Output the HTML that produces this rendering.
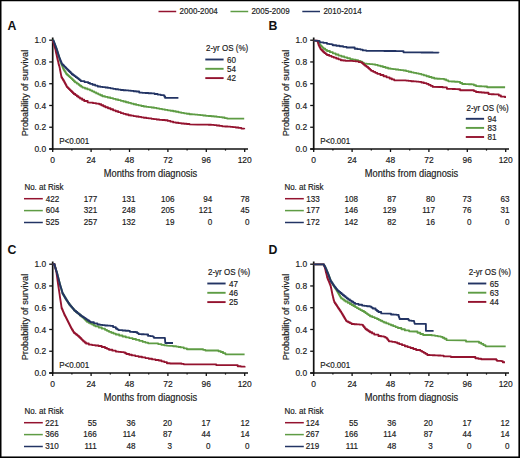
<!DOCTYPE html><html><head><meta charset="utf-8"><style>html,body{margin:0;padding:0;background:#fff;overflow:hidden;width:520px;height:458px;}svg{display:block;}</style></head><body>
<svg width="520" height="458" viewBox="0 0 520 458" font-family="&quot;Liberation Sans&quot;, sans-serif">
<rect x="0" y="0" width="520" height="458" fill="#fff"/>
<line x1="158.5" y1="11.5" x2="176.2" y2="11.5" stroke="#94132f" stroke-width="1.5"/>
<text transform="translate(179.6,14.3) scale(0.93,1)" font-size="8.6" fill="#1a1a1a" stroke="#1c1c1c" stroke-width="0.18">2000-2004</text>
<line x1="230.5" y1="11.5" x2="248.2" y2="11.5" stroke="#5e9c44" stroke-width="1.5"/>
<text transform="translate(251.4,14.3) scale(0.93,1)" font-size="8.6" fill="#1a1a1a" stroke="#1c1c1c" stroke-width="0.18">2005-2009</text>
<line x1="302.3" y1="11.5" x2="320" y2="11.5" stroke="#233464" stroke-width="1.5"/>
<text transform="translate(323.4,14.3) scale(0.93,1)" font-size="8.6" fill="#1a1a1a" stroke="#1c1c1c" stroke-width="0.18">2010-2014</text>
<g transform="translate(0,0)">
<text x="7.6" y="29.6" font-size="12.3" font-weight="bold" fill="#111">A</text>
<text transform="translate(28.0,93) rotate(-90) scale(0.945,1)" text-anchor="middle" font-size="9.7" fill="#1a1a1a" stroke="#1c1c1c" stroke-width="0.18">Probability of survival</text>
<line x1="49.2" y1="149" x2="52.7" y2="149" stroke="#111" stroke-width="1.3"/>
<text transform="translate(46.1,152.1) scale(0.965,1)" text-anchor="end" font-size="8.7" fill="#1a1a1a" stroke="#1c1c1c" stroke-width="0.18">0.0</text>
<line x1="49.2" y1="127.24" x2="52.7" y2="127.24" stroke="#111" stroke-width="1.3"/>
<text transform="translate(46.1,130.34) scale(0.965,1)" text-anchor="end" font-size="8.7" fill="#1a1a1a" stroke="#1c1c1c" stroke-width="0.18">0.2</text>
<line x1="49.2" y1="105.48" x2="52.7" y2="105.48" stroke="#111" stroke-width="1.3"/>
<text transform="translate(46.1,108.58) scale(0.965,1)" text-anchor="end" font-size="8.7" fill="#1a1a1a" stroke="#1c1c1c" stroke-width="0.18">0.4</text>
<line x1="49.2" y1="83.72" x2="52.7" y2="83.72" stroke="#111" stroke-width="1.3"/>
<text transform="translate(46.1,86.82) scale(0.965,1)" text-anchor="end" font-size="8.7" fill="#1a1a1a" stroke="#1c1c1c" stroke-width="0.18">0.6</text>
<line x1="49.2" y1="61.96" x2="52.7" y2="61.96" stroke="#111" stroke-width="1.3"/>
<text transform="translate(46.1,65.06) scale(0.965,1)" text-anchor="end" font-size="8.7" fill="#1a1a1a" stroke="#1c1c1c" stroke-width="0.18">0.8</text>
<line x1="49.2" y1="40.2" x2="52.7" y2="40.2" stroke="#111" stroke-width="1.3"/>
<text transform="translate(46.1,43.3) scale(0.965,1)" text-anchor="end" font-size="8.7" fill="#1a1a1a" stroke="#1c1c1c" stroke-width="0.18">1.0</text>
<line x1="52.7" y1="37.5" x2="52.7" y2="149.6" stroke="#111" stroke-width="1.7"/>
<line x1="49.2" y1="149.0" x2="248" y2="149.0" stroke="#111" stroke-width="1.5"/>
<line x1="52.7" y1="149.0" x2="52.7" y2="152.0" stroke="#111" stroke-width="1.3"/>
<text transform="translate(52.7,163.3) scale(0.97,1)" text-anchor="middle" font-size="8.7" fill="#1a1a1a" stroke="#1c1c1c" stroke-width="0.18">0</text>
<line x1="71.9" y1="149.0" x2="71.9" y2="150.6" stroke="#111" stroke-width="1.2"/>
<line x1="91.1" y1="149.0" x2="91.1" y2="152.0" stroke="#111" stroke-width="1.3"/>
<text transform="translate(91.1,163.3) scale(0.97,1)" text-anchor="middle" font-size="8.7" fill="#1a1a1a" stroke="#1c1c1c" stroke-width="0.18">24</text>
<line x1="110.3" y1="149.0" x2="110.3" y2="150.6" stroke="#111" stroke-width="1.2"/>
<line x1="129.5" y1="149.0" x2="129.5" y2="152.0" stroke="#111" stroke-width="1.3"/>
<text transform="translate(129.5,163.3) scale(0.97,1)" text-anchor="middle" font-size="8.7" fill="#1a1a1a" stroke="#1c1c1c" stroke-width="0.18">48</text>
<line x1="148.7" y1="149.0" x2="148.7" y2="150.6" stroke="#111" stroke-width="1.2"/>
<line x1="167.9" y1="149.0" x2="167.9" y2="152.0" stroke="#111" stroke-width="1.3"/>
<text transform="translate(167.9,163.3) scale(0.97,1)" text-anchor="middle" font-size="8.7" fill="#1a1a1a" stroke="#1c1c1c" stroke-width="0.18">72</text>
<line x1="187.1" y1="149.0" x2="187.1" y2="150.6" stroke="#111" stroke-width="1.2"/>
<line x1="206.3" y1="149.0" x2="206.3" y2="152.0" stroke="#111" stroke-width="1.3"/>
<text transform="translate(206.3,163.3) scale(0.97,1)" text-anchor="middle" font-size="8.7" fill="#1a1a1a" stroke="#1c1c1c" stroke-width="0.18">96</text>
<line x1="225.5" y1="149.0" x2="225.5" y2="150.6" stroke="#111" stroke-width="1.2"/>
<line x1="244.7" y1="149.0" x2="244.7" y2="152.0" stroke="#111" stroke-width="1.3"/>
<text transform="translate(244.7,163.3) scale(0.97,1)" text-anchor="middle" font-size="8.7" fill="#1a1a1a" stroke="#1c1c1c" stroke-width="0.18">120</text>
<text transform="translate(150.5,176.9) scale(0.91,1)" text-anchor="middle" font-size="10.2" fill="#1a1a1a" stroke="#1c1c1c" stroke-width="0.18">Months from diagnosis</text>
<text transform="translate(59.2,143.6) scale(0.93,1)" font-size="8.6" fill="#1a1a1a" stroke="#1c1c1c" stroke-width="0.18">P&lt;0.001</text>
<text transform="translate(206,50.9) scale(0.93,1)" font-size="8.6" fill="#1a1a1a" stroke="#1c1c1c" stroke-width="0.18">2-yr OS (%)</text>
<line x1="205.3" y1="59.5" x2="223.6" y2="59.5" stroke="#233464" stroke-width="1.9"/>
<text transform="translate(227,62.6) scale(0.93,1)" font-size="8.7" fill="#1a1a1a" stroke="#1c1c1c" stroke-width="0.18">60</text>
<line x1="205.3" y1="68.8" x2="223.6" y2="68.8" stroke="#5e9c44" stroke-width="1.9"/>
<text transform="translate(227,71.9) scale(0.93,1)" font-size="8.7" fill="#1a1a1a" stroke="#1c1c1c" stroke-width="0.18">54</text>
<line x1="205.3" y1="78.1" x2="223.6" y2="78.1" stroke="#94132f" stroke-width="1.9"/>
<text transform="translate(227,81.2) scale(0.93,1)" font-size="8.7" fill="#1a1a1a" stroke="#1c1c1c" stroke-width="0.18">42</text>
<polyline points="52.7,40.2 53.12,40.2 53.12,41.19 53.54,41.19 53.54,42.18 53.97,42.18 53.97,43.17 54.39,43.17 54.39,44.16 54.81,44.16 54.81,45.14 55.23,45.14 55.23,46.13 55.66,46.13 55.66,47.12 56.08,47.12 56.08,48.11 56.5,48.11 56.5,49.1 56.8,49.1 56.8,50.09 57.1,50.09 57.1,51.08 57.4,51.08 57.4,52.07 57.7,52.07 57.7,53.06 58,53.06 58,54.05 58.3,54.05 58.3,55.05 58.6,55.05 58.6,56.04 58.9,56.04 58.9,57.03 59.2,57.03 59.2,58.02 59.5,58.02 59.5,59.01 59.8,59.01 59.8,60 60.17,60 60.17,60.98 60.53,60.98 60.53,61.96 60.9,61.96 60.9,62.93 61.27,62.93 61.27,63.91 61.63,63.91 61.63,64.89 62,64.89 62,65.87 62.37,65.87 62.37,66.84 62.73,66.84 62.73,67.82 63.1,67.82 63.1,68.8 63.76,68.8 63.76,69.88 64.42,69.88 64.42,70.96 65.08,70.96 65.08,72.04 65.74,72.04 65.74,73.12 66.4,73.12 66.4,74.2 67.48,74.2 67.48,75.18 68.56,75.18 68.56,76.16 69.64,76.16 69.64,77.14 70.72,77.14 70.72,78.12 71.8,78.12 71.8,79.1 72.87,79.1 72.87,80.17 73.93,80.17 73.93,81.23 75,81.23 75,82.3 76.8,82.3 76.8,83.55 78.6,83.55 78.6,84.8 79.9,84.8 79.9,85.73 81.2,85.73 81.2,86.67 82.5,86.67 82.5,87.6 85,87.6 85,88.5 87.5,88.5 87.5,89.4 90,89.4 90,90.3 92.07,90.3 92.07,91.33 94.13,91.33 94.13,92.37 96.2,92.37 96.2,93.4 98.23,93.4 98.23,94.33 100.27,94.33 100.27,95.27 102.3,95.27 102.3,96.2 105,96.2 105,96.85 107.7,96.85 107.7,97.5 110.4,97.5 110.4,98.15 113.1,98.15 113.1,98.8 115.67,98.8 115.67,99.47 118.23,99.47 118.23,100.13 120.8,100.13 120.8,100.8 123.37,100.8 123.37,101.5 125.93,101.5 125.93,102.2 128.5,102.2 128.5,102.9 131.07,102.9 131.07,103.57 133.63,103.57 133.63,104.23 136.2,104.23 136.2,104.9 138.73,104.9 138.73,105.43 141.27,105.43 141.27,105.97 143.8,105.97 143.8,106.5 146.37,106.5 146.37,106.83 148.93,106.83 148.93,107.17 151.5,107.17 151.5,107.5 154.07,107.5 154.07,107.93 156.63,107.93 156.63,108.37 159.2,108.37 159.2,108.8 162.1,108.8 162.1,109.35 165,109.35 165,109.9 167.73,109.9 167.73,110.33 170.47,110.33 170.47,110.77 173.2,110.77 173.2,111.2 175.9,111.2 175.9,111.77 178.6,111.77 178.6,112.33 181.3,112.33 181.3,112.9 184.03,112.9 184.03,113.33 186.77,113.33 186.77,113.77 189.5,113.77 189.5,114.2 192.23,114.2 192.23,114.4 194.97,114.4 194.97,114.6 197.7,114.6 197.7,114.8 200.4,114.8 200.4,115.13 203.1,115.13 203.1,115.47 205.8,115.47 205.8,115.8 208.53,115.8 208.53,116.03 211.27,116.03 211.27,116.27 214,116.27 214,116.5 216.73,116.5 216.73,116.83 219.47,116.83 219.47,117.17 222.2,117.17 222.2,117.5 224.65,117.5 224.65,118.05 227.1,118.05 227.1,118.6 244.2,118.6" fill="none" stroke="#5e9c44" stroke-width="1.85" stroke-linejoin="round"/>
<polyline points="52.7,40.2 53.3,42.5 53.57,42.5 53.57,43.46 53.85,43.46 53.85,44.42 54.12,44.42 54.12,45.39 54.4,45.39 54.4,46.35 54.67,46.35 54.67,47.31 54.95,47.31 54.95,48.28 55.23,48.28 55.23,49.24 55.5,49.24 55.5,50.2 55.71,50.2 55.71,51.18 55.92,51.18 55.92,52.16 56.13,52.16 56.13,53.14 56.34,53.14 56.34,54.12 56.55,54.12 56.55,55.1 56.76,55.1 56.76,56.08 56.97,56.08 56.97,57.06 57.18,57.06 57.18,58.04 57.39,58.04 57.39,59.02 57.6,59.02 57.6,60 57.84,60 57.84,60.98 58.09,60.98 58.09,61.96 58.33,61.96 58.33,62.93 58.58,62.93 58.58,63.91 58.82,63.91 58.82,64.89 59.07,64.89 59.07,65.87 59.31,65.87 59.31,66.84 59.56,66.84 59.56,67.82 59.8,67.82 59.8,68.8 59.99,68.8 59.99,69.77 60.18,69.77 60.18,70.73 60.37,70.73 60.37,71.7 60.56,71.7 60.56,72.67 60.74,72.67 60.74,73.63 60.93,73.63 60.93,74.6 61.12,74.6 61.12,75.57 61.31,75.57 61.31,76.53 61.5,76.53 61.5,77.5 62.17,77.5 62.17,78.6 62.85,78.6 62.85,79.7 63.53,79.7 63.53,80.8 64.2,80.8 64.2,81.9 64.74,81.9 64.74,82.94 65.28,82.94 65.28,83.98 65.82,83.98 65.82,85.02 66.36,85.02 66.36,86.06 66.9,86.06 66.9,87.1 67.89,87.1 67.89,88.09 68.87,88.09 68.87,89.07 69.86,89.07 69.86,90.06 70.84,90.06 70.84,91.04 71.83,91.04 71.83,92.03 72.81,92.03 72.81,93.01 73.8,93.01 73.8,94 75.35,94 75.35,95.12 76.9,95.12 76.9,96.25 78.45,96.25 78.45,97.38 80,97.38 80,98.5 82.1,98.5 82.1,99.75 84.2,99.75 84.2,101 87.7,101 87.7,102.4 90,102.6 93.07,102.6 93.07,103.13 96.13,103.13 96.13,103.67 99.2,103.67 99.2,104.2 101.27,104.2 101.27,105.2 103.33,105.2 103.33,106.2 105.4,106.2 105.4,107.2 107.97,107.2 107.97,108.23 110.53,108.23 110.53,109.27 113.1,109.27 113.1,110.3 115.67,110.3 115.67,111.23 118.23,111.23 118.23,112.17 120.8,112.17 120.8,113.1 123.37,113.1 123.37,113.8 125.93,113.8 125.93,114.5 128.5,114.5 128.5,115.2 131.07,115.2 131.07,115.63 133.63,115.63 133.63,116.07 136.2,116.07 136.2,116.5 138.73,116.5 138.73,116.9 141.27,116.9 141.27,117.3 143.8,117.3 143.8,117.7 146.37,117.7 146.37,118.07 148.93,118.07 148.93,118.43 151.5,118.43 151.5,118.8 154.07,118.8 154.07,119.13 156.63,119.13 156.63,119.47 159.2,119.47 159.2,119.8 162.1,119.8 162.1,120 165,120 165,120.2 167.73,120.2 167.73,120.93 170.47,120.93 170.47,121.67 173.2,121.67 173.2,122.4 175.9,122.4 175.9,122.77 178.6,122.77 178.6,123.13 181.3,123.13 181.3,123.5 184.03,123.5 184.03,123.77 186.77,123.77 186.77,124.03 189.5,124.03 189.5,124.3 197.7,124.6 205.8,124.6 208.53,124.6 208.53,124.77 211.27,124.77 211.27,124.93 214,124.93 214,125.1 216.73,125.1 216.73,125.5 219.47,125.5 219.47,125.9 222.2,125.9 222.2,126.3 224.93,126.3 224.93,126.47 227.67,126.47 227.67,126.63 230.4,126.63 230.4,126.8 233.1,126.8 233.1,127.17 235.8,127.17 235.8,127.53 238.5,127.53 238.5,127.9 241.35,127.9 241.35,128.55 244.2,128.55 244.2,129.2" fill="none" stroke="#94132f" stroke-width="1.85" stroke-linejoin="round"/>
<polyline points="52.7,40.2 53.3,40.4 53.66,40.4 53.66,41.37 54.01,41.37 54.01,42.33 54.37,42.33 54.37,43.3 54.72,43.3 54.72,44.27 55.08,44.27 55.08,45.23 55.43,45.23 55.43,46.2 55.79,46.2 55.79,47.17 56.14,47.17 56.14,48.13 56.5,48.13 56.5,49.1 56.81,49.1 56.81,50.07 57.12,50.07 57.12,51.03 57.43,51.03 57.43,52 57.74,52 57.74,52.97 58.06,52.97 58.06,53.93 58.37,53.93 58.37,54.9 58.68,54.9 58.68,55.87 58.99,55.87 58.99,56.83 59.3,56.83 59.3,57.8 59.69,57.8 59.69,58.74 60.07,58.74 60.07,59.69 60.46,59.69 60.46,60.63 60.84,60.63 60.84,61.57 61.23,61.57 61.23,62.51 61.61,62.51 61.61,63.46 62,63.46 62,64.4 63.1,64.4 63.1,65.5 64.2,65.5 64.2,66.6 65.3,66.6 65.3,67.7 66.4,67.7 66.4,68.8 67.48,68.8 67.48,69.88 68.56,69.88 68.56,70.96 69.64,70.96 69.64,72.04 70.72,72.04 70.72,73.12 71.8,73.12 71.8,74.2 73.12,74.2 73.12,75.18 74.44,75.18 74.44,76.16 75.76,76.16 75.76,77.14 77.08,77.14 77.08,78.12 78.4,78.12 78.4,79.1 79.6,79.1 79.6,80.1 80.8,80.1 80.8,81.1 84.5,81.1 84.5,82.05 88.2,82.05 88.2,83 90,83 90,83.8 92.57,83.8 92.57,84.7 95.13,84.7 95.13,85.6 97.7,85.6 97.7,86.5 100.27,86.5 100.27,86.83 102.83,86.83 102.83,87.17 105.4,87.17 105.4,87.5 107.97,87.5 107.97,87.93 110.53,87.93 110.53,88.37 113.1,88.37 113.1,88.8 115.67,88.8 115.67,89.2 118.23,89.2 118.23,89.6 120.8,89.6 120.8,90 123.37,90 123.37,90.2 125.93,90.2 125.93,90.4 128.5,90.4 128.5,90.6 131.07,90.6 131.07,90.9 133.63,90.9 133.63,91.2 136.2,91.2 136.2,91.5 139.2,91.5 139.2,92.6 142.27,92.6 142.27,92.8 145.35,92.8 145.35,93 148.43,93 148.43,93.2 151.5,93.2 151.5,93.4 154.6,93.4 154.6,94 157.7,94 157.7,94.6 160.75,94.6 160.75,95.05 163.8,95.05 163.8,95.5 164.5,95.5 164.5,96.7 165.2,96.7 165.2,97.9 178.4,97.9" fill="none" stroke="#233464" stroke-width="1.85" stroke-linejoin="round"/>
<text transform="translate(24.4,189.5) scale(0.93,1)" font-size="8.6" fill="#1a1a1a" stroke="#1c1c1c" stroke-width="0.18">No. at Risk</text>
<line x1="24" y1="198.7" x2="42.8" y2="198.7" stroke="#94132f" stroke-width="1.5"/>
<text transform="translate(59.2,201.55) scale(0.93,1)" text-anchor="end" font-size="8.7" fill="#1a1a1a" stroke="#1c1c1c" stroke-width="0.18">422</text>
<text transform="translate(97.3,201.55) scale(0.93,1)" text-anchor="end" font-size="8.7" fill="#1a1a1a" stroke="#1c1c1c" stroke-width="0.18">177</text>
<text transform="translate(135.6,201.55) scale(0.93,1)" text-anchor="end" font-size="8.7" fill="#1a1a1a" stroke="#1c1c1c" stroke-width="0.18">131</text>
<text transform="translate(174.4,201.55) scale(0.93,1)" text-anchor="end" font-size="8.7" fill="#1a1a1a" stroke="#1c1c1c" stroke-width="0.18">106</text>
<text transform="translate(212.3,201.55) scale(0.93,1)" text-anchor="end" font-size="8.7" fill="#1a1a1a" stroke="#1c1c1c" stroke-width="0.18">94</text>
<text transform="translate(249.4,201.55) scale(0.93,1)" text-anchor="end" font-size="8.7" fill="#1a1a1a" stroke="#1c1c1c" stroke-width="0.18">78</text>
<line x1="24" y1="210.6" x2="42.8" y2="210.6" stroke="#5e9c44" stroke-width="1.5"/>
<text transform="translate(59.2,213.45) scale(0.93,1)" text-anchor="end" font-size="8.7" fill="#1a1a1a" stroke="#1c1c1c" stroke-width="0.18">604</text>
<text transform="translate(97.3,213.45) scale(0.93,1)" text-anchor="end" font-size="8.7" fill="#1a1a1a" stroke="#1c1c1c" stroke-width="0.18">321</text>
<text transform="translate(135.6,213.45) scale(0.93,1)" text-anchor="end" font-size="8.7" fill="#1a1a1a" stroke="#1c1c1c" stroke-width="0.18">248</text>
<text transform="translate(174.4,213.45) scale(0.93,1)" text-anchor="end" font-size="8.7" fill="#1a1a1a" stroke="#1c1c1c" stroke-width="0.18">205</text>
<text transform="translate(212.3,213.45) scale(0.93,1)" text-anchor="end" font-size="8.7" fill="#1a1a1a" stroke="#1c1c1c" stroke-width="0.18">121</text>
<text transform="translate(249.4,213.45) scale(0.93,1)" text-anchor="end" font-size="8.7" fill="#1a1a1a" stroke="#1c1c1c" stroke-width="0.18">45</text>
<line x1="24" y1="222.5" x2="42.8" y2="222.5" stroke="#233464" stroke-width="1.5"/>
<text transform="translate(59.2,225.35) scale(0.93,1)" text-anchor="end" font-size="8.7" fill="#1a1a1a" stroke="#1c1c1c" stroke-width="0.18">525</text>
<text transform="translate(97.3,225.35) scale(0.93,1)" text-anchor="end" font-size="8.7" fill="#1a1a1a" stroke="#1c1c1c" stroke-width="0.18">257</text>
<text transform="translate(135.6,225.35) scale(0.93,1)" text-anchor="end" font-size="8.7" fill="#1a1a1a" stroke="#1c1c1c" stroke-width="0.18">132</text>
<text transform="translate(174.4,225.35) scale(0.93,1)" text-anchor="end" font-size="8.7" fill="#1a1a1a" stroke="#1c1c1c" stroke-width="0.18">19</text>
<text transform="translate(212.3,225.35) scale(0.93,1)" text-anchor="end" font-size="8.7" fill="#1a1a1a" stroke="#1c1c1c" stroke-width="0.18">0</text>
<text transform="translate(249.4,225.35) scale(0.93,1)" text-anchor="end" font-size="8.7" fill="#1a1a1a" stroke="#1c1c1c" stroke-width="0.18">0</text>
</g>
<g transform="translate(261,0)">
<text x="7.6" y="29.6" font-size="12.3" font-weight="bold" fill="#111">B</text>
<text transform="translate(28.0,93) rotate(-90) scale(0.945,1)" text-anchor="middle" font-size="9.7" fill="#1a1a1a" stroke="#1c1c1c" stroke-width="0.18">Probability of survival</text>
<line x1="49.2" y1="149" x2="52.7" y2="149" stroke="#111" stroke-width="1.3"/>
<text transform="translate(46.1,152.1) scale(0.965,1)" text-anchor="end" font-size="8.7" fill="#1a1a1a" stroke="#1c1c1c" stroke-width="0.18">0.0</text>
<line x1="49.2" y1="127.24" x2="52.7" y2="127.24" stroke="#111" stroke-width="1.3"/>
<text transform="translate(46.1,130.34) scale(0.965,1)" text-anchor="end" font-size="8.7" fill="#1a1a1a" stroke="#1c1c1c" stroke-width="0.18">0.2</text>
<line x1="49.2" y1="105.48" x2="52.7" y2="105.48" stroke="#111" stroke-width="1.3"/>
<text transform="translate(46.1,108.58) scale(0.965,1)" text-anchor="end" font-size="8.7" fill="#1a1a1a" stroke="#1c1c1c" stroke-width="0.18">0.4</text>
<line x1="49.2" y1="83.72" x2="52.7" y2="83.72" stroke="#111" stroke-width="1.3"/>
<text transform="translate(46.1,86.82) scale(0.965,1)" text-anchor="end" font-size="8.7" fill="#1a1a1a" stroke="#1c1c1c" stroke-width="0.18">0.6</text>
<line x1="49.2" y1="61.96" x2="52.7" y2="61.96" stroke="#111" stroke-width="1.3"/>
<text transform="translate(46.1,65.06) scale(0.965,1)" text-anchor="end" font-size="8.7" fill="#1a1a1a" stroke="#1c1c1c" stroke-width="0.18">0.8</text>
<line x1="49.2" y1="40.2" x2="52.7" y2="40.2" stroke="#111" stroke-width="1.3"/>
<text transform="translate(46.1,43.3) scale(0.965,1)" text-anchor="end" font-size="8.7" fill="#1a1a1a" stroke="#1c1c1c" stroke-width="0.18">1.0</text>
<line x1="52.7" y1="37.5" x2="52.7" y2="149.6" stroke="#111" stroke-width="1.7"/>
<line x1="49.2" y1="149.0" x2="248" y2="149.0" stroke="#111" stroke-width="1.5"/>
<line x1="52.7" y1="149.0" x2="52.7" y2="152.0" stroke="#111" stroke-width="1.3"/>
<text transform="translate(52.7,163.3) scale(0.97,1)" text-anchor="middle" font-size="8.7" fill="#1a1a1a" stroke="#1c1c1c" stroke-width="0.18">0</text>
<line x1="71.9" y1="149.0" x2="71.9" y2="150.6" stroke="#111" stroke-width="1.2"/>
<line x1="91.1" y1="149.0" x2="91.1" y2="152.0" stroke="#111" stroke-width="1.3"/>
<text transform="translate(91.1,163.3) scale(0.97,1)" text-anchor="middle" font-size="8.7" fill="#1a1a1a" stroke="#1c1c1c" stroke-width="0.18">24</text>
<line x1="110.3" y1="149.0" x2="110.3" y2="150.6" stroke="#111" stroke-width="1.2"/>
<line x1="129.5" y1="149.0" x2="129.5" y2="152.0" stroke="#111" stroke-width="1.3"/>
<text transform="translate(129.5,163.3) scale(0.97,1)" text-anchor="middle" font-size="8.7" fill="#1a1a1a" stroke="#1c1c1c" stroke-width="0.18">48</text>
<line x1="148.7" y1="149.0" x2="148.7" y2="150.6" stroke="#111" stroke-width="1.2"/>
<line x1="167.9" y1="149.0" x2="167.9" y2="152.0" stroke="#111" stroke-width="1.3"/>
<text transform="translate(167.9,163.3) scale(0.97,1)" text-anchor="middle" font-size="8.7" fill="#1a1a1a" stroke="#1c1c1c" stroke-width="0.18">72</text>
<line x1="187.1" y1="149.0" x2="187.1" y2="150.6" stroke="#111" stroke-width="1.2"/>
<line x1="206.3" y1="149.0" x2="206.3" y2="152.0" stroke="#111" stroke-width="1.3"/>
<text transform="translate(206.3,163.3) scale(0.97,1)" text-anchor="middle" font-size="8.7" fill="#1a1a1a" stroke="#1c1c1c" stroke-width="0.18">96</text>
<line x1="225.5" y1="149.0" x2="225.5" y2="150.6" stroke="#111" stroke-width="1.2"/>
<line x1="244.7" y1="149.0" x2="244.7" y2="152.0" stroke="#111" stroke-width="1.3"/>
<text transform="translate(244.7,163.3) scale(0.97,1)" text-anchor="middle" font-size="8.7" fill="#1a1a1a" stroke="#1c1c1c" stroke-width="0.18">120</text>
<text transform="translate(150.5,176.9) scale(0.91,1)" text-anchor="middle" font-size="10.2" fill="#1a1a1a" stroke="#1c1c1c" stroke-width="0.18">Months from diagnosis</text>
<text transform="translate(59.2,143.6) scale(0.93,1)" font-size="8.6" fill="#1a1a1a" stroke="#1c1c1c" stroke-width="0.18">P&lt;0.001</text>
<text transform="translate(205.5,111) scale(0.93,1)" font-size="8.6" fill="#1a1a1a" stroke="#1c1c1c" stroke-width="0.18">2-yr OS (%)</text>
<line x1="204.8" y1="118.8" x2="223.1" y2="118.8" stroke="#233464" stroke-width="1.9"/>
<text transform="translate(226.5,121.9) scale(0.93,1)" font-size="8.7" fill="#1a1a1a" stroke="#1c1c1c" stroke-width="0.18">94</text>
<line x1="204.8" y1="127.9" x2="223.1" y2="127.9" stroke="#5e9c44" stroke-width="1.9"/>
<text transform="translate(226.5,131) scale(0.93,1)" font-size="8.7" fill="#1a1a1a" stroke="#1c1c1c" stroke-width="0.18">83</text>
<line x1="204.8" y1="137" x2="223.1" y2="137" stroke="#94132f" stroke-width="1.9"/>
<text transform="translate(226.5,140.1) scale(0.93,1)" font-size="8.7" fill="#1a1a1a" stroke="#1c1c1c" stroke-width="0.18">81</text>
<polyline points="52.7,40.6 56.3,40.9 56.83,40.9 56.83,41.77 57.37,41.77 57.37,42.63 57.9,42.63 57.9,43.5 58.67,43.5 58.67,44.47 59.43,44.47 59.43,45.43 60.2,45.43 60.2,46.4 61.35,46.4 61.35,47.55 62.5,47.55 62.5,48.7 64.25,48.7 64.25,49.85 66,49.85 66,51 68.9,51 68.9,52.15 71.8,52.15 71.8,53.3 74.65,53.3 74.65,54.45 77.5,54.45 77.5,55.6 80.4,55.6 80.4,56.45 83.3,56.45 83.3,57.3 86.2,57.3 86.2,58.2 89.1,58.2 89.1,59.1 91.95,59.1 91.95,59.65 94.8,59.65 94.8,60.2 97.15,60.2 97.15,60.9 99.5,60.9 99.5,61.6 101.2,61.6 101.2,62.65 102.9,62.65 102.9,63.7 105.83,63.7 105.83,63.9 108.77,63.9 108.77,64.1 111.7,64.1 111.7,64.3 114.27,64.3 114.27,64.93 116.83,64.93 116.83,65.57 119.4,65.57 119.4,66.2 121.97,66.2 121.97,66.97 124.53,66.97 124.53,67.73 127.1,67.73 127.1,68.5 129.67,68.5 129.67,68.83 132.23,68.83 132.23,69.17 134.8,69.17 134.8,69.5 137.37,69.5 137.37,69.83 139.93,69.83 139.93,70.17 142.5,70.17 142.5,70.5 145.07,70.5 145.07,71.1 147.63,71.1 147.63,71.7 150.2,71.7 150.2,72.3 152.73,72.3 152.73,72.8 155.27,72.8 155.27,73.3 157.8,73.3 157.8,73.8 160.37,73.8 160.37,74.6 162.93,74.6 162.93,75.4 165.5,75.4 165.5,76.2 168.07,76.2 168.07,76.97 170.63,76.97 170.63,77.73 173.2,77.73 173.2,78.5 176.1,78.5 176.1,78.7 179,78.7 179,78.9 183.2,78.9 183.2,79.5 185.25,79.5 185.25,80.4 187.3,80.4 187.3,81.3 190.53,81.3 190.53,81.5 193.77,81.5 193.77,81.7 197,81.7 197,81.9 199.1,81.9 199.1,82.95 201.2,82.95 201.2,84 204.43,84 204.43,84.13 207.67,84.13 207.67,84.27 210.9,84.27 210.9,84.4 212.95,84.4 212.95,85.25 215,85.25 215,86.1 217.77,86.1 217.77,86.23 220.53,86.23 220.53,86.37 223.3,86.37 223.3,86.5 226.1,86.5 226.1,87.2 244.1,87.2" fill="none" stroke="#5e9c44" stroke-width="1.85" stroke-linejoin="round"/>
<polyline points="52.7,40.6 56.3,40.6 56.3,41.2 56.62,41.2 56.62,42.12 56.94,42.12 56.94,43.04 57.26,43.04 57.26,43.96 57.58,43.96 57.58,44.88 57.9,44.88 57.9,45.8 58.35,45.8 58.35,46.67 58.8,46.67 58.8,47.55 59.25,47.55 59.25,48.42 59.7,48.42 59.7,49.3 60.63,49.3 60.63,50.27 61.57,50.27 61.57,51.23 62.5,51.23 62.5,52.2 63.67,52.2 63.67,53.13 64.83,53.13 64.83,54.07 66,54.07 66,55 68.3,55 68.3,55.9 70.6,55.9 70.6,56.8 72.9,56.8 72.9,57.65 75.2,57.65 75.2,58.5 77.5,58.5 77.5,59.35 79.8,59.35 79.8,60.2 82.15,60.2 82.15,60.5 84.5,60.5 84.5,60.8 89.1,60.8 91.95,60.8 91.95,61.1 94.8,61.1 94.8,61.4 97.7,61.4 97.7,62.1 100.6,62.1 100.6,62.8 101.77,62.8 101.77,63.8 102.93,63.8 102.93,64.8 104.1,64.8 104.1,65.8 105.6,65.8 105.6,66.9 107.1,66.9 107.1,68 108.13,68 108.13,68.93 109.17,68.93 109.17,69.87 110.2,69.87 110.2,70.8 112.23,70.8 112.23,71.8 114.27,71.8 114.27,72.8 116.3,72.8 116.3,73.8 119.4,73.8 119.4,75 122.5,75 122.5,76.2 125.55,76.2 125.55,77.35 128.6,77.35 128.6,78.5 130.9,78.5 130.9,79.4 133.2,79.4 133.2,80.3 142.5,80.3 145.07,80.3 145.07,80.6 147.63,80.6 147.63,80.9 150.2,80.9 150.2,81.2 152.73,81.2 152.73,81.4 155.27,81.4 155.27,81.6 157.8,81.6 157.8,81.8 160.37,81.8 160.37,82.47 162.93,82.47 162.93,83.13 165.5,83.13 165.5,83.8 167.57,83.8 167.57,84.83 169.63,84.83 169.63,85.87 171.7,85.87 171.7,86.9 179,87 181.8,87 181.8,87.4 185.9,87.4 185.9,88.8 188.67,88.8 188.67,88.9 191.45,88.9 191.45,89 194.22,89 194.22,89.1 197,89.1 197,89.2 199.1,89.2 199.1,90.2 210.9,90.2 212.95,90.2 212.95,91.1 215,91.1 215,92 217.77,92 217.77,92.23 220.53,92.23 220.53,92.47 223.3,92.47 223.3,92.7 227.5,92.7 227.5,94.1 230.27,94.1 230.27,94.2 233.03,94.2 233.03,94.3 235.8,94.3 235.8,94.4 237.85,94.4 237.85,95.5 239.9,95.5 239.9,96.6 244.1,96.6 244.1,98" fill="none" stroke="#94132f" stroke-width="1.85" stroke-linejoin="round"/>
<polyline points="52.7,40.6 58.5,40.8 59.1,42.3 62.5,42.3 62.5,42.9 66,42.9 66,43.8 68.3,43.8 68.3,44.05 70.6,44.05 70.6,44.3 71.8,44.3 71.8,45.2 75.25,45.2 75.25,45.7 78.7,45.7 78.7,46.2 82.15,46.2 82.15,46.85 85.6,46.85 85.6,47.5 91.4,47.5 93.7,47.5 93.7,48.7 96.6,48.7 96.6,49.15 99.5,49.15 99.5,49.6 101.8,49.6 101.8,50.4 105.2,50.4 105.2,50.8 108.17,50.8 108.17,50.82 111.15,50.82 111.15,50.85 114.12,50.85 114.12,50.88 117.1,50.88 117.1,50.9 120.07,50.9 120.07,50.92 123.05,50.92 123.05,50.95 126.02,50.95 126.02,50.98 129,50.98 129,51 131.97,51 131.97,51.02 134.95,51.02 134.95,51.05 137.92,51.05 137.92,51.08 140.9,51.08 140.9,51.1 142.5,51.1 142.5,52.3 145.44,52.3 145.44,52.32 148.38,52.32 148.38,52.35 151.32,52.35 151.32,52.38 154.27,52.38 154.27,52.4 157.21,52.4 157.21,52.42 160.15,52.42 160.15,52.45 163.09,52.45 163.09,52.48 166.03,52.48 166.03,52.5 168.98,52.5 168.98,52.52 171.92,52.52 171.92,52.55 174.86,52.55 174.86,52.58 177.8,52.58 177.8,52.6" fill="none" stroke="#233464" stroke-width="1.85" stroke-linejoin="round"/>
<text transform="translate(23.4,189.5) scale(0.93,1)" font-size="8.6" fill="#1a1a1a" stroke="#1c1c1c" stroke-width="0.18">No. at Risk</text>
<line x1="24" y1="198.7" x2="42.8" y2="198.7" stroke="#94132f" stroke-width="1.5"/>
<text transform="translate(58.8,201.55) scale(0.93,1)" text-anchor="end" font-size="8.7" fill="#1a1a1a" stroke="#1c1c1c" stroke-width="0.18">133</text>
<text transform="translate(97.1,201.55) scale(0.93,1)" text-anchor="end" font-size="8.7" fill="#1a1a1a" stroke="#1c1c1c" stroke-width="0.18">108</text>
<text transform="translate(135.2,201.55) scale(0.93,1)" text-anchor="end" font-size="8.7" fill="#1a1a1a" stroke="#1c1c1c" stroke-width="0.18">87</text>
<text transform="translate(174.1,201.55) scale(0.93,1)" text-anchor="end" font-size="8.7" fill="#1a1a1a" stroke="#1c1c1c" stroke-width="0.18">80</text>
<text transform="translate(210.5,201.55) scale(0.93,1)" text-anchor="end" font-size="8.7" fill="#1a1a1a" stroke="#1c1c1c" stroke-width="0.18">73</text>
<text transform="translate(248.6,201.55) scale(0.93,1)" text-anchor="end" font-size="8.7" fill="#1a1a1a" stroke="#1c1c1c" stroke-width="0.18">63</text>
<line x1="24" y1="210.6" x2="42.8" y2="210.6" stroke="#5e9c44" stroke-width="1.5"/>
<text transform="translate(58.8,213.45) scale(0.93,1)" text-anchor="end" font-size="8.7" fill="#1a1a1a" stroke="#1c1c1c" stroke-width="0.18">177</text>
<text transform="translate(97.1,213.45) scale(0.93,1)" text-anchor="end" font-size="8.7" fill="#1a1a1a" stroke="#1c1c1c" stroke-width="0.18">146</text>
<text transform="translate(135.2,213.45) scale(0.93,1)" text-anchor="end" font-size="8.7" fill="#1a1a1a" stroke="#1c1c1c" stroke-width="0.18">129</text>
<text transform="translate(174.1,213.45) scale(0.93,1)" text-anchor="end" font-size="8.7" fill="#1a1a1a" stroke="#1c1c1c" stroke-width="0.18">117</text>
<text transform="translate(210.5,213.45) scale(0.93,1)" text-anchor="end" font-size="8.7" fill="#1a1a1a" stroke="#1c1c1c" stroke-width="0.18">76</text>
<text transform="translate(248.6,213.45) scale(0.93,1)" text-anchor="end" font-size="8.7" fill="#1a1a1a" stroke="#1c1c1c" stroke-width="0.18">31</text>
<line x1="24" y1="222.5" x2="42.8" y2="222.5" stroke="#233464" stroke-width="1.5"/>
<text transform="translate(58.8,225.35) scale(0.93,1)" text-anchor="end" font-size="8.7" fill="#1a1a1a" stroke="#1c1c1c" stroke-width="0.18">172</text>
<text transform="translate(97.1,225.35) scale(0.93,1)" text-anchor="end" font-size="8.7" fill="#1a1a1a" stroke="#1c1c1c" stroke-width="0.18">142</text>
<text transform="translate(135.2,225.35) scale(0.93,1)" text-anchor="end" font-size="8.7" fill="#1a1a1a" stroke="#1c1c1c" stroke-width="0.18">82</text>
<text transform="translate(174.1,225.35) scale(0.93,1)" text-anchor="end" font-size="8.7" fill="#1a1a1a" stroke="#1c1c1c" stroke-width="0.18">16</text>
<text transform="translate(210.5,225.35) scale(0.93,1)" text-anchor="end" font-size="8.7" fill="#1a1a1a" stroke="#1c1c1c" stroke-width="0.18">0</text>
<text transform="translate(248.6,225.35) scale(0.93,1)" text-anchor="end" font-size="8.7" fill="#1a1a1a" stroke="#1c1c1c" stroke-width="0.18">0</text>
</g>
<g transform="translate(0,224)">
<text x="7.6" y="29.6" font-size="12.3" font-weight="bold" fill="#111">C</text>
<text transform="translate(28.0,93) rotate(-90) scale(0.945,1)" text-anchor="middle" font-size="9.7" fill="#1a1a1a" stroke="#1c1c1c" stroke-width="0.18">Probability of survival</text>
<line x1="49.2" y1="149" x2="52.7" y2="149" stroke="#111" stroke-width="1.3"/>
<text transform="translate(46.1,152.1) scale(0.965,1)" text-anchor="end" font-size="8.7" fill="#1a1a1a" stroke="#1c1c1c" stroke-width="0.18">0.0</text>
<line x1="49.2" y1="127.24" x2="52.7" y2="127.24" stroke="#111" stroke-width="1.3"/>
<text transform="translate(46.1,130.34) scale(0.965,1)" text-anchor="end" font-size="8.7" fill="#1a1a1a" stroke="#1c1c1c" stroke-width="0.18">0.2</text>
<line x1="49.2" y1="105.48" x2="52.7" y2="105.48" stroke="#111" stroke-width="1.3"/>
<text transform="translate(46.1,108.58) scale(0.965,1)" text-anchor="end" font-size="8.7" fill="#1a1a1a" stroke="#1c1c1c" stroke-width="0.18">0.4</text>
<line x1="49.2" y1="83.72" x2="52.7" y2="83.72" stroke="#111" stroke-width="1.3"/>
<text transform="translate(46.1,86.82) scale(0.965,1)" text-anchor="end" font-size="8.7" fill="#1a1a1a" stroke="#1c1c1c" stroke-width="0.18">0.6</text>
<line x1="49.2" y1="61.96" x2="52.7" y2="61.96" stroke="#111" stroke-width="1.3"/>
<text transform="translate(46.1,65.06) scale(0.965,1)" text-anchor="end" font-size="8.7" fill="#1a1a1a" stroke="#1c1c1c" stroke-width="0.18">0.8</text>
<line x1="49.2" y1="40.2" x2="52.7" y2="40.2" stroke="#111" stroke-width="1.3"/>
<text transform="translate(46.1,43.3) scale(0.965,1)" text-anchor="end" font-size="8.7" fill="#1a1a1a" stroke="#1c1c1c" stroke-width="0.18">1.0</text>
<line x1="52.7" y1="37.5" x2="52.7" y2="149.6" stroke="#111" stroke-width="1.7"/>
<line x1="49.2" y1="149.0" x2="248" y2="149.0" stroke="#111" stroke-width="1.5"/>
<line x1="52.7" y1="149.0" x2="52.7" y2="152.0" stroke="#111" stroke-width="1.3"/>
<text transform="translate(52.7,163.3) scale(0.97,1)" text-anchor="middle" font-size="8.7" fill="#1a1a1a" stroke="#1c1c1c" stroke-width="0.18">0</text>
<line x1="71.9" y1="149.0" x2="71.9" y2="150.6" stroke="#111" stroke-width="1.2"/>
<line x1="91.1" y1="149.0" x2="91.1" y2="152.0" stroke="#111" stroke-width="1.3"/>
<text transform="translate(91.1,163.3) scale(0.97,1)" text-anchor="middle" font-size="8.7" fill="#1a1a1a" stroke="#1c1c1c" stroke-width="0.18">24</text>
<line x1="110.3" y1="149.0" x2="110.3" y2="150.6" stroke="#111" stroke-width="1.2"/>
<line x1="129.5" y1="149.0" x2="129.5" y2="152.0" stroke="#111" stroke-width="1.3"/>
<text transform="translate(129.5,163.3) scale(0.97,1)" text-anchor="middle" font-size="8.7" fill="#1a1a1a" stroke="#1c1c1c" stroke-width="0.18">48</text>
<line x1="148.7" y1="149.0" x2="148.7" y2="150.6" stroke="#111" stroke-width="1.2"/>
<line x1="167.9" y1="149.0" x2="167.9" y2="152.0" stroke="#111" stroke-width="1.3"/>
<text transform="translate(167.9,163.3) scale(0.97,1)" text-anchor="middle" font-size="8.7" fill="#1a1a1a" stroke="#1c1c1c" stroke-width="0.18">72</text>
<line x1="187.1" y1="149.0" x2="187.1" y2="150.6" stroke="#111" stroke-width="1.2"/>
<line x1="206.3" y1="149.0" x2="206.3" y2="152.0" stroke="#111" stroke-width="1.3"/>
<text transform="translate(206.3,163.3) scale(0.97,1)" text-anchor="middle" font-size="8.7" fill="#1a1a1a" stroke="#1c1c1c" stroke-width="0.18">96</text>
<line x1="225.5" y1="149.0" x2="225.5" y2="150.6" stroke="#111" stroke-width="1.2"/>
<line x1="244.7" y1="149.0" x2="244.7" y2="152.0" stroke="#111" stroke-width="1.3"/>
<text transform="translate(244.7,163.3) scale(0.97,1)" text-anchor="middle" font-size="8.7" fill="#1a1a1a" stroke="#1c1c1c" stroke-width="0.18">120</text>
<text transform="translate(150.5,176.9) scale(0.91,1)" text-anchor="middle" font-size="10.2" fill="#1a1a1a" stroke="#1c1c1c" stroke-width="0.18">Months from diagnosis</text>
<text transform="translate(59.2,143.6) scale(0.93,1)" font-size="8.6" fill="#1a1a1a" stroke="#1c1c1c" stroke-width="0.18">P&lt;0.001</text>
<text transform="translate(208,50.9) scale(0.93,1)" font-size="8.6" fill="#1a1a1a" stroke="#1c1c1c" stroke-width="0.18">2-yr OS (%)</text>
<line x1="207.3" y1="59.5" x2="225.6" y2="59.5" stroke="#233464" stroke-width="1.9"/>
<text transform="translate(229,62.6) scale(0.93,1)" font-size="8.7" fill="#1a1a1a" stroke="#1c1c1c" stroke-width="0.18">47</text>
<line x1="207.3" y1="68.8" x2="225.6" y2="68.8" stroke="#5e9c44" stroke-width="1.9"/>
<text transform="translate(229,71.9) scale(0.93,1)" font-size="8.7" fill="#1a1a1a" stroke="#1c1c1c" stroke-width="0.18">46</text>
<line x1="207.3" y1="78.1" x2="225.6" y2="78.1" stroke="#94132f" stroke-width="1.9"/>
<text transform="translate(229,81.2) scale(0.93,1)" font-size="8.7" fill="#1a1a1a" stroke="#1c1c1c" stroke-width="0.18">25</text>
<polyline points="52.7,40.2 54.6,40.2 54.6,41.5 54.89,41.5 54.89,42.47 55.18,42.47 55.18,43.43 55.47,43.43 55.47,44.4 55.76,44.4 55.76,45.37 56.04,45.37 56.04,46.33 56.33,46.33 56.33,47.3 56.62,47.3 56.62,48.27 56.91,48.27 56.91,49.23 57.2,49.23 57.2,50.2 57.47,50.2 57.47,51.25 57.74,51.25 57.74,52.3 58.01,52.3 58.01,53.35 58.28,53.35 58.28,54.4 58.55,54.4 58.55,55.45 58.82,55.45 58.82,56.5 59.09,56.5 59.09,57.55 59.36,57.55 59.36,58.6 59.63,58.6 59.63,59.65 59.9,59.65 59.9,60.7 60.19,60.7 60.19,61.67 60.48,61.67 60.48,62.63 60.77,62.63 60.77,63.6 61.06,63.6 61.06,64.57 61.34,64.57 61.34,65.53 61.63,65.53 61.63,66.5 61.92,66.5 61.92,67.47 62.21,67.47 62.21,68.43 62.5,68.43 62.5,69.4 63.08,69.4 63.08,70.42 63.67,70.42 63.67,71.43 64.25,71.43 64.25,72.45 64.83,72.45 64.83,73.47 65.42,73.47 65.42,74.48 66,74.48 66,75.5 66.7,75.5 66.7,76.56 67.4,76.56 67.4,77.62 68.1,77.62 68.1,78.68 68.8,78.68 68.8,79.74 69.5,79.74 69.5,80.8 70.37,80.8 70.37,81.82 71.23,81.82 71.23,82.83 72.1,82.83 72.1,83.85 72.97,83.85 72.97,84.87 73.83,84.87 73.83,85.88 74.7,85.88 74.7,86.9 76,86.9 76,88.02 77.3,88.02 77.3,89.15 78.6,89.15 78.6,90.27 79.9,90.27 79.9,91.4 81.27,91.4 81.27,92.53 82.63,92.53 82.63,93.67 84,93.67 84,94.8 84.97,94.8 84.97,95.8 85.93,95.8 85.93,96.8 86.9,96.8 86.9,97.8 88.64,97.8 88.64,98.72 90.38,98.72 90.38,99.64 92.12,99.64 92.12,100.56 93.86,100.56 93.86,101.48 95.6,101.48 95.6,102.4 98.73,102.4 98.73,103.53 101.87,103.53 101.87,104.67 105,104.67 105,105.8 107,105.8 107,106.8 109,106.8 109,107.8 111.27,107.8 111.27,108.7 113.53,108.7 113.53,109.6 115.8,109.6 115.8,110.5 119.15,110.5 119.15,111.5 122.5,111.5 122.5,112.5 125.85,112.5 125.85,113.3 129.2,113.3 129.2,114.1 132.6,114.1 132.6,115 136,115 136,115.9 139.35,115.9 139.35,116.9 142.7,116.9 142.7,117.9 145.4,117.9 145.4,118.6 148.1,118.6 148.1,119.3 154.8,119.3 158.15,119.3 158.15,120.1 161.5,120.1 161.5,120.9 164.2,120.9 164.2,121.3 166.9,121.3 166.9,121.7 170,121.8 173.1,121.8 173.1,122.2 176.2,122.2 176.2,122.6 178.5,122.6 178.5,123 180.8,123 180.8,123.4 183.85,123.4 183.85,124.3 186.9,124.3 186.9,125.2 200.8,125.2 203.1,125.2 203.1,125.85 205.4,125.85 205.4,126.5 216.2,126.5 218.5,126.5 218.5,127.25 220.8,127.25 220.8,128 223.1,128 223.1,129.15 225.4,129.15 225.4,130.3 244.6,130.3" fill="none" stroke="#5e9c44" stroke-width="1.85" stroke-linejoin="round"/>
<polyline points="52.7,40.2 54.6,40.2 54.6,41.5 54.86,41.5 54.86,42.5 55.11,42.5 55.11,43.5 55.37,43.5 55.37,44.5 55.63,44.5 55.63,45.5 55.89,45.5 55.89,46.5 56.14,46.5 56.14,47.5 56.4,47.5 56.4,48.5 56.54,48.5 56.54,49.52 56.68,49.52 56.68,50.53 56.83,50.53 56.83,51.55 56.97,51.55 56.97,52.57 57.11,52.57 57.11,53.58 57.25,53.58 57.25,54.6 57.39,54.6 57.39,55.62 57.53,55.62 57.53,56.63 57.67,56.63 57.67,57.65 57.82,57.65 57.82,58.67 57.96,58.67 57.96,59.68 58.1,59.68 58.1,60.7 58.25,60.7 58.25,61.72 58.4,61.72 58.4,62.73 58.55,62.73 58.55,63.75 58.7,63.75 58.7,64.77 58.85,64.77 58.85,65.78 59,65.78 59,66.8 59.15,66.8 59.15,67.82 59.3,67.82 59.3,68.83 59.45,68.83 59.45,69.85 59.6,69.85 59.6,70.87 59.75,70.87 59.75,71.88 59.9,71.88 59.9,72.9 60.05,72.9 60.05,73.93 60.21,73.93 60.21,74.95 60.36,74.95 60.36,75.98 60.52,75.98 60.52,77.01 60.67,77.01 60.67,78.04 60.83,78.04 60.83,79.06 60.98,79.06 60.98,80.09 61.14,80.09 61.14,81.12 61.29,81.12 61.29,82.15 61.45,82.15 61.45,83.17 61.6,83.17 61.6,84.2 62.03,84.2 62.03,85.23 62.47,85.23 62.47,86.27 62.9,86.27 62.9,87.3 63.33,87.3 63.33,88.33 63.77,88.33 63.77,89.37 64.2,89.37 64.2,90.4 64.7,90.4 64.7,91.39 65.2,91.39 65.2,92.37 65.7,92.37 65.7,93.36 66.2,93.36 66.2,94.34 66.7,94.34 66.7,95.33 67.2,95.33 67.2,96.31 67.7,96.31 67.7,97.3 68.2,97.3 68.2,98.3 68.7,98.3 68.7,99.3 69.2,99.3 69.2,100.3 69.7,100.3 69.7,101.3 70.2,101.3 70.2,102.3 70.7,102.3 70.7,103.3 71.2,103.3 71.2,104.3 71.85,104.3 71.85,105.4 72.5,105.4 72.5,106.5 73.15,106.5 73.15,107.6 73.8,107.6 73.8,108.7 74.9,108.7 74.9,109.57 76,109.57 76,110.45 77.1,110.45 77.1,111.32 78.2,111.32 78.2,112.2 79.24,112.2 79.24,113.24 80.28,113.24 80.28,114.28 81.32,114.28 81.32,115.32 82.36,115.32 82.36,116.36 83.4,116.36 83.4,117.4 84.7,117.4 84.7,118.45 86,118.45 86,119.5 88.8,119.5 88.8,120.6 92.03,120.6 92.03,121.07 95.27,121.07 95.27,121.53 98.5,121.53 98.5,122 101.75,122 101.75,123 105,123 105,124 107,124 107,124.85 109,124.85 109,125.7 112.4,125.7 112.4,126.65 115.8,126.65 115.8,127.6 118.47,127.6 118.47,127.87 121.13,127.87 121.13,128.13 123.8,128.13 123.8,128.4 125.15,128.4 125.15,129.2 126.5,129.2 126.5,130 129.2,130 129.2,130.7 131.9,130.7 131.9,131.4 135.25,131.4 135.25,132.05 138.6,132.05 138.6,132.7 142,132.7 142,133.4 145.4,133.4 145.4,134.1 148.75,134.1 148.75,134.75 152.1,134.75 152.1,135.4 155.45,135.4 155.45,135.95 158.8,135.95 158.8,136.5 161.5,136.5 161.5,137.3 164.2,137.3 164.2,138.1 166.9,138.1 166.9,139.2 170,139.2 170,139.5 179.2,139.5 181.5,139.5 181.5,139.9 183.8,139.9 183.8,140.3 213.1,140.3 216.2,140.3 216.2,141.1 234.6,141.1 237.7,141.1 237.7,142.2 240.8,142.2 240.8,142.6 244.6,142.6 244.6,143.4" fill="none" stroke="#94132f" stroke-width="1.85" stroke-linejoin="round"/>
<polyline points="52.7,40.2 54.6,40.2 54.6,41.5 54.89,41.5 54.89,42.47 55.18,42.47 55.18,43.43 55.47,43.43 55.47,44.4 55.76,44.4 55.76,45.37 56.04,45.37 56.04,46.33 56.33,46.33 56.33,47.3 56.62,47.3 56.62,48.27 56.91,48.27 56.91,49.23 57.2,49.23 57.2,50.2 57.47,50.2 57.47,51.25 57.74,51.25 57.74,52.3 58.01,52.3 58.01,53.35 58.28,53.35 58.28,54.4 58.55,54.4 58.55,55.45 58.82,55.45 58.82,56.5 59.09,56.5 59.09,57.55 59.36,57.55 59.36,58.6 59.63,58.6 59.63,59.65 59.9,59.65 59.9,60.7 60.19,60.7 60.19,61.67 60.48,61.67 60.48,62.63 60.77,62.63 60.77,63.6 61.06,63.6 61.06,64.57 61.34,64.57 61.34,65.53 61.63,65.53 61.63,66.5 61.92,66.5 61.92,67.47 62.21,67.47 62.21,68.43 62.5,68.43 62.5,69.4 63.08,69.4 63.08,70.42 63.67,70.42 63.67,71.43 64.25,71.43 64.25,72.45 64.83,72.45 64.83,73.47 65.42,73.47 65.42,74.48 66,74.48 66,75.5 66.7,75.5 66.7,76.56 67.4,76.56 67.4,77.62 68.1,77.62 68.1,78.68 68.8,78.68 68.8,79.74 69.5,79.74 69.5,80.8 70.37,80.8 70.37,81.82 71.23,81.82 71.23,82.83 72.1,82.83 72.1,83.85 72.97,83.85 72.97,84.87 73.83,84.87 73.83,85.88 74.7,85.88 74.7,86.9 76,86.9 76,87.97 77.3,87.97 77.3,89.05 78.6,89.05 78.6,90.12 79.9,90.12 79.9,91.2 81.23,91.2 81.23,92.07 82.55,92.07 82.55,92.95 83.88,92.95 83.88,93.82 85.2,93.82 85.2,94.7 86.5,94.7 86.5,95.57 87.8,95.57 87.8,96.45 89.1,96.45 89.1,97.32 90.4,97.32 90.4,98.2 93.9,98.2 93.9,99.35 97.4,99.35 97.4,100.5 99.93,100.5 99.93,100.83 102.47,100.83 102.47,101.17 105,101.17 105,101.5 107.7,101.5 107.7,101.65 110.4,101.65 110.4,101.8 113.1,101.8 113.1,103.1 115.8,103.1 115.8,104.5 117.15,104.5 117.15,105.3 118.5,105.3 118.5,106.1 122.5,106.1 122.5,106.5 125.55,106.5 125.55,106.7 128.6,106.7 128.6,106.9 129.9,106.9 129.9,107.8 132.95,107.8 132.95,108 136,108 136,108.2 137.3,108.2 137.3,109.15 138.6,109.15 138.6,110.1 141.3,110.1 141.3,110.23 144,110.23 144,110.37 146.7,110.37 146.7,110.5 148.1,110.5 148.1,111.9 150.45,111.9 150.45,112.1 152.8,112.1 152.8,112.3 153.45,112.3 153.45,113.1 154.1,113.1 154.1,113.9 164.9,113.9 165.3,119 173,119" fill="none" stroke="#233464" stroke-width="1.85" stroke-linejoin="round"/>
<text transform="translate(24.4,189.5) scale(0.93,1)" font-size="8.6" fill="#1a1a1a" stroke="#1c1c1c" stroke-width="0.18">No. at Risk</text>
<line x1="24" y1="198.7" x2="42.8" y2="198.7" stroke="#94132f" stroke-width="1.5"/>
<text transform="translate(58.7,201.55) scale(0.93,1)" text-anchor="end" font-size="8.7" fill="#1a1a1a" stroke="#1c1c1c" stroke-width="0.18">221</text>
<text transform="translate(96.7,201.55) scale(0.93,1)" text-anchor="end" font-size="8.7" fill="#1a1a1a" stroke="#1c1c1c" stroke-width="0.18">55</text>
<text transform="translate(135.6,201.55) scale(0.93,1)" text-anchor="end" font-size="8.7" fill="#1a1a1a" stroke="#1c1c1c" stroke-width="0.18">36</text>
<text transform="translate(171.9,201.55) scale(0.93,1)" text-anchor="end" font-size="8.7" fill="#1a1a1a" stroke="#1c1c1c" stroke-width="0.18">20</text>
<text transform="translate(210.4,201.55) scale(0.93,1)" text-anchor="end" font-size="8.7" fill="#1a1a1a" stroke="#1c1c1c" stroke-width="0.18">17</text>
<text transform="translate(249.4,201.55) scale(0.93,1)" text-anchor="end" font-size="8.7" fill="#1a1a1a" stroke="#1c1c1c" stroke-width="0.18">12</text>
<line x1="24" y1="210.6" x2="42.8" y2="210.6" stroke="#5e9c44" stroke-width="1.5"/>
<text transform="translate(58.7,213.45) scale(0.93,1)" text-anchor="end" font-size="8.7" fill="#1a1a1a" stroke="#1c1c1c" stroke-width="0.18">366</text>
<text transform="translate(96.7,213.45) scale(0.93,1)" text-anchor="end" font-size="8.7" fill="#1a1a1a" stroke="#1c1c1c" stroke-width="0.18">166</text>
<text transform="translate(135.6,213.45) scale(0.93,1)" text-anchor="end" font-size="8.7" fill="#1a1a1a" stroke="#1c1c1c" stroke-width="0.18">114</text>
<text transform="translate(171.9,213.45) scale(0.93,1)" text-anchor="end" font-size="8.7" fill="#1a1a1a" stroke="#1c1c1c" stroke-width="0.18">87</text>
<text transform="translate(210.4,213.45) scale(0.93,1)" text-anchor="end" font-size="8.7" fill="#1a1a1a" stroke="#1c1c1c" stroke-width="0.18">44</text>
<text transform="translate(249.4,213.45) scale(0.93,1)" text-anchor="end" font-size="8.7" fill="#1a1a1a" stroke="#1c1c1c" stroke-width="0.18">14</text>
<line x1="24" y1="222.5" x2="42.8" y2="222.5" stroke="#233464" stroke-width="1.5"/>
<text transform="translate(58.7,225.35) scale(0.93,1)" text-anchor="end" font-size="8.7" fill="#1a1a1a" stroke="#1c1c1c" stroke-width="0.18">310</text>
<text transform="translate(96.7,225.35) scale(0.93,1)" text-anchor="end" font-size="8.7" fill="#1a1a1a" stroke="#1c1c1c" stroke-width="0.18">111</text>
<text transform="translate(135.6,225.35) scale(0.93,1)" text-anchor="end" font-size="8.7" fill="#1a1a1a" stroke="#1c1c1c" stroke-width="0.18">48</text>
<text transform="translate(171.9,225.35) scale(0.93,1)" text-anchor="end" font-size="8.7" fill="#1a1a1a" stroke="#1c1c1c" stroke-width="0.18">3</text>
<text transform="translate(210.4,225.35) scale(0.93,1)" text-anchor="end" font-size="8.7" fill="#1a1a1a" stroke="#1c1c1c" stroke-width="0.18">0</text>
<text transform="translate(249.4,225.35) scale(0.93,1)" text-anchor="end" font-size="8.7" fill="#1a1a1a" stroke="#1c1c1c" stroke-width="0.18">0</text>
</g>
<g transform="translate(261,224)">
<text x="7.6" y="29.6" font-size="12.3" font-weight="bold" fill="#111">D</text>
<text transform="translate(28.0,93) rotate(-90) scale(0.945,1)" text-anchor="middle" font-size="9.7" fill="#1a1a1a" stroke="#1c1c1c" stroke-width="0.18">Probability of survival</text>
<line x1="49.2" y1="149" x2="52.7" y2="149" stroke="#111" stroke-width="1.3"/>
<text transform="translate(46.1,152.1) scale(0.965,1)" text-anchor="end" font-size="8.7" fill="#1a1a1a" stroke="#1c1c1c" stroke-width="0.18">0.0</text>
<line x1="49.2" y1="127.24" x2="52.7" y2="127.24" stroke="#111" stroke-width="1.3"/>
<text transform="translate(46.1,130.34) scale(0.965,1)" text-anchor="end" font-size="8.7" fill="#1a1a1a" stroke="#1c1c1c" stroke-width="0.18">0.2</text>
<line x1="49.2" y1="105.48" x2="52.7" y2="105.48" stroke="#111" stroke-width="1.3"/>
<text transform="translate(46.1,108.58) scale(0.965,1)" text-anchor="end" font-size="8.7" fill="#1a1a1a" stroke="#1c1c1c" stroke-width="0.18">0.4</text>
<line x1="49.2" y1="83.72" x2="52.7" y2="83.72" stroke="#111" stroke-width="1.3"/>
<text transform="translate(46.1,86.82) scale(0.965,1)" text-anchor="end" font-size="8.7" fill="#1a1a1a" stroke="#1c1c1c" stroke-width="0.18">0.6</text>
<line x1="49.2" y1="61.96" x2="52.7" y2="61.96" stroke="#111" stroke-width="1.3"/>
<text transform="translate(46.1,65.06) scale(0.965,1)" text-anchor="end" font-size="8.7" fill="#1a1a1a" stroke="#1c1c1c" stroke-width="0.18">0.8</text>
<line x1="49.2" y1="40.2" x2="52.7" y2="40.2" stroke="#111" stroke-width="1.3"/>
<text transform="translate(46.1,43.3) scale(0.965,1)" text-anchor="end" font-size="8.7" fill="#1a1a1a" stroke="#1c1c1c" stroke-width="0.18">1.0</text>
<line x1="52.7" y1="37.5" x2="52.7" y2="149.6" stroke="#111" stroke-width="1.7"/>
<line x1="49.2" y1="149.0" x2="248" y2="149.0" stroke="#111" stroke-width="1.5"/>
<line x1="52.7" y1="149.0" x2="52.7" y2="152.0" stroke="#111" stroke-width="1.3"/>
<text transform="translate(52.7,163.3) scale(0.97,1)" text-anchor="middle" font-size="8.7" fill="#1a1a1a" stroke="#1c1c1c" stroke-width="0.18">0</text>
<line x1="71.9" y1="149.0" x2="71.9" y2="150.6" stroke="#111" stroke-width="1.2"/>
<line x1="91.1" y1="149.0" x2="91.1" y2="152.0" stroke="#111" stroke-width="1.3"/>
<text transform="translate(91.1,163.3) scale(0.97,1)" text-anchor="middle" font-size="8.7" fill="#1a1a1a" stroke="#1c1c1c" stroke-width="0.18">24</text>
<line x1="110.3" y1="149.0" x2="110.3" y2="150.6" stroke="#111" stroke-width="1.2"/>
<line x1="129.5" y1="149.0" x2="129.5" y2="152.0" stroke="#111" stroke-width="1.3"/>
<text transform="translate(129.5,163.3) scale(0.97,1)" text-anchor="middle" font-size="8.7" fill="#1a1a1a" stroke="#1c1c1c" stroke-width="0.18">48</text>
<line x1="148.7" y1="149.0" x2="148.7" y2="150.6" stroke="#111" stroke-width="1.2"/>
<line x1="167.9" y1="149.0" x2="167.9" y2="152.0" stroke="#111" stroke-width="1.3"/>
<text transform="translate(167.9,163.3) scale(0.97,1)" text-anchor="middle" font-size="8.7" fill="#1a1a1a" stroke="#1c1c1c" stroke-width="0.18">72</text>
<line x1="187.1" y1="149.0" x2="187.1" y2="150.6" stroke="#111" stroke-width="1.2"/>
<line x1="206.3" y1="149.0" x2="206.3" y2="152.0" stroke="#111" stroke-width="1.3"/>
<text transform="translate(206.3,163.3) scale(0.97,1)" text-anchor="middle" font-size="8.7" fill="#1a1a1a" stroke="#1c1c1c" stroke-width="0.18">96</text>
<line x1="225.5" y1="149.0" x2="225.5" y2="150.6" stroke="#111" stroke-width="1.2"/>
<line x1="244.7" y1="149.0" x2="244.7" y2="152.0" stroke="#111" stroke-width="1.3"/>
<text transform="translate(244.7,163.3) scale(0.97,1)" text-anchor="middle" font-size="8.7" fill="#1a1a1a" stroke="#1c1c1c" stroke-width="0.18">120</text>
<text transform="translate(150.5,176.9) scale(0.91,1)" text-anchor="middle" font-size="10.2" fill="#1a1a1a" stroke="#1c1c1c" stroke-width="0.18">Months from diagnosis</text>
<text transform="translate(59.2,143.6) scale(0.93,1)" font-size="8.6" fill="#1a1a1a" stroke="#1c1c1c" stroke-width="0.18">P&lt;0.001</text>
<text transform="translate(207.7,50.9) scale(0.93,1)" font-size="8.6" fill="#1a1a1a" stroke="#1c1c1c" stroke-width="0.18">2-yr OS (%)</text>
<line x1="207" y1="59.5" x2="225.3" y2="59.5" stroke="#233464" stroke-width="1.9"/>
<text transform="translate(228.7,62.6) scale(0.93,1)" font-size="8.7" fill="#1a1a1a" stroke="#1c1c1c" stroke-width="0.18">65</text>
<line x1="207" y1="68.7" x2="225.3" y2="68.7" stroke="#5e9c44" stroke-width="1.9"/>
<text transform="translate(228.7,71.8) scale(0.93,1)" font-size="8.7" fill="#1a1a1a" stroke="#1c1c1c" stroke-width="0.18">63</text>
<line x1="207" y1="77.9" x2="225.3" y2="77.9" stroke="#94132f" stroke-width="1.9"/>
<text transform="translate(228.7,81) scale(0.93,1)" font-size="8.7" fill="#1a1a1a" stroke="#1c1c1c" stroke-width="0.18">44</text>
<polyline points="52.7,40.4 62.4,40.4 62.92,40.4 62.92,41.32 63.45,41.32 63.45,42.25 63.97,42.25 63.97,43.18 64.5,43.18 64.5,44.1 64.93,44.1 64.93,45.12 65.37,45.12 65.37,46.13 65.8,46.13 65.8,47.15 66.23,47.15 66.23,48.17 66.67,48.17 66.67,49.18 67.1,49.18 67.1,50.2 67.47,50.2 67.47,51.2 67.84,51.2 67.84,52.2 68.21,52.2 68.21,53.2 68.59,53.2 68.59,54.2 68.96,54.2 68.96,55.2 69.33,55.2 69.33,56.2 69.7,56.2 69.7,57.2 70.28,57.2 70.28,58.13 70.87,58.13 70.87,59.07 71.45,59.07 71.45,60 72.03,60 72.03,60.93 72.62,60.93 72.62,61.87 73.2,61.87 73.2,62.8 73.78,62.8 73.78,63.73 74.37,63.73 74.37,64.67 74.95,64.67 74.95,65.6 75.53,65.6 75.53,66.53 76.12,66.53 76.12,67.47 76.7,67.47 76.7,68.4 77.28,68.4 77.28,69.4 77.87,69.4 77.87,70.4 78.45,70.4 78.45,71.4 79.03,71.4 79.03,72.4 79.62,72.4 79.62,73.4 80.2,73.4 80.2,74.4 81.63,74.4 81.63,75.43 83.07,75.43 83.07,76.47 84.5,76.47 84.5,77.5 86.7,77.5 86.7,78.75 88.9,78.75 88.9,80 90.64,80 90.64,81.02 92.38,81.02 92.38,82.04 94.12,82.04 94.12,83.06 95.86,83.06 95.86,84.08 97.6,84.08 97.6,85.1 99.4,85.1 99.4,86.07 101.2,86.07 101.2,87.03 103,87.03 103,88 104.5,88 104.5,89.05 106,89.05 106,90.1 107.5,90.1 107.5,91.15 109,91.15 109,92.2 111.33,92.2 111.33,93.13 113.67,93.13 113.67,94.07 116,94.07 116,95 117.75,95 117.75,95.88 119.5,95.88 119.5,96.75 121.25,96.75 121.25,97.62 123,97.62 123,98.5 125.33,98.5 125.33,99.4 127.67,99.4 127.67,100.3 130,100.3 130,101.2 132.3,101.2 132.3,102.13 134.6,102.13 134.6,103.07 136.9,103.07 136.9,104 140.4,104 140.4,105.2 143.9,105.2 143.9,106.4 148.1,106.4 148.1,107.3 153.7,107.5 156.5,107.5 156.5,108.75 159.3,108.75 159.3,110 162.1,110 162.1,111 167.7,111 170.85,111 170.85,111.4 174,111.4 174,111.8 176.9,111.8 176.9,112.3 179.8,112.3 179.8,112.8 181.6,112.8 181.6,113.75 183.4,113.75 183.4,114.7 185.5,114.7 185.5,116.1 202.8,116.4 205,116.4 205,117.6 215.8,117.6 218,117.6 218,118.7 220.2,118.7 220.2,119.8 222.35,119.8 222.35,121.05 224.5,121.05 224.5,122.3 244.7,122.3" fill="none" stroke="#5e9c44" stroke-width="1.85" stroke-linejoin="round"/>
<polyline points="52.7,40.4 62.4,40.4 62.8,40.4 62.8,41.33 63.2,41.33 63.2,42.27 63.6,42.27 63.6,43.2 63.86,43.2 63.86,44.25 64.12,44.25 64.12,45.3 64.38,45.3 64.38,46.35 64.64,46.35 64.64,47.4 64.9,47.4 64.9,48.45 65.16,48.45 65.16,49.5 65.42,49.5 65.42,50.55 65.68,50.55 65.68,51.6 65.94,51.6 65.94,52.65 66.2,52.65 66.2,53.7 66.59,53.7 66.59,54.67 66.98,54.67 66.98,55.63 67.37,55.63 67.37,56.6 67.76,56.6 67.76,57.57 68.14,57.57 68.14,58.53 68.53,58.53 68.53,59.5 68.92,59.5 68.92,60.47 69.31,60.47 69.31,61.43 69.7,61.43 69.7,62.4 69.9,62.4 69.9,63.38 70.1,63.38 70.1,64.36 70.3,64.36 70.3,65.33 70.5,65.33 70.5,66.31 70.7,66.31 70.7,67.29 70.9,67.29 70.9,68.27 71.1,68.27 71.1,69.24 71.3,69.24 71.3,70.22 71.5,70.22 71.5,71.2 71.74,71.2 71.74,72.19 71.99,72.19 71.99,73.17 72.23,73.17 72.23,74.16 72.47,74.16 72.47,75.14 72.71,75.14 72.71,76.13 72.96,76.13 72.96,77.11 73.2,77.11 73.2,78.1 73.9,78.1 73.9,79.16 74.6,79.16 74.6,80.22 75.3,80.22 75.3,81.28 76,81.28 76,82.34 76.7,82.34 76.7,83.4 77.4,83.4 77.4,84.44 78.1,84.44 78.1,85.48 78.8,85.48 78.8,86.52 79.5,86.52 79.5,87.56 80.2,87.56 80.2,88.6 80.78,88.6 80.78,89.57 81.36,89.57 81.36,90.53 81.93,90.53 81.93,91.5 82.51,91.5 82.51,92.47 83.09,92.47 83.09,93.43 83.67,93.43 83.67,94.4 84.24,94.4 84.24,95.37 84.82,95.37 84.82,96.33 85.4,96.33 85.4,97.3 87.13,97.3 87.13,98.2 88.87,98.2 88.87,99.1 90.6,99.1 90.6,100 93.23,100 93.23,100.2 95.85,100.2 95.85,100.4 98.48,100.4 98.48,100.6 101.1,100.6 101.1,100.8 101.98,100.8 101.98,101.9 102.85,101.9 102.85,103 103.73,103 103.73,104.1 104.6,104.1 104.6,105.2 106.07,105.2 106.07,106.2 107.53,106.2 107.53,107.2 109,107.2 109,108.2 111.1,108.2 111.1,109.4 113.2,109.4 113.2,110.6 117.4,110.6 117.4,112 120.2,112 120.2,112.4 123,112.4 123,112.8 124.4,112.8 124.4,113.65 125.8,113.65 125.8,114.5 126.5,114.5 126.5,115.43 127.2,115.43 127.2,116.37 127.9,116.37 127.9,117.3 131.05,117.3 131.05,117.85 134.2,117.85 134.2,118.4 136.25,118.4 136.25,119.25 138.3,119.25 138.3,120.1 141.1,120.1 141.1,121.15 143.9,121.15 143.9,122.2 146.7,122.2 146.7,123.1 149.5,123.1 149.5,124 152.3,124 152.3,125 155.1,125 155.1,126 159.3,126 159.3,126.8 161.05,126.8 161.05,127.8 162.8,127.8 162.8,128.8 164.55,128.8 164.55,129.9 166.3,129.9 166.3,131 168.87,131 168.87,131.1 171.43,131.1 171.43,131.2 174,131.2 174,131.3 176.9,131.3 176.9,131.45 179.8,131.45 179.8,131.6 182.7,131.6 182.7,132.4 188.4,132.4 189.9,132.4 189.9,133 212.9,133 214.4,133 214.4,134.2 217.3,134.2 217.3,134.7 220.2,134.7 220.2,135.2 234.6,135.2 235.3,135.2 235.3,136 236,136 236,136.8 240.3,136.8 240.3,137.1 241.8,137.1 241.8,138.2 244,138.2" fill="none" stroke="#94132f" stroke-width="1.85" stroke-linejoin="round"/>
<polyline points="52.7,40.4 62.4,40.4 62.92,40.4 62.92,41.32 63.45,41.32 63.45,42.25 63.97,42.25 63.97,43.18 64.5,43.18 64.5,44.1 64.93,44.1 64.93,45.12 65.37,45.12 65.37,46.13 65.8,46.13 65.8,47.15 66.23,47.15 66.23,48.17 66.67,48.17 66.67,49.18 67.1,49.18 67.1,50.2 67.47,50.2 67.47,51.2 67.84,51.2 67.84,52.2 68.21,52.2 68.21,53.2 68.59,53.2 68.59,54.2 68.96,54.2 68.96,55.2 69.33,55.2 69.33,56.2 69.7,56.2 69.7,57.2 70.4,57.2 70.4,58.24 71.1,58.24 71.1,59.28 71.8,59.28 71.8,60.32 72.5,60.32 72.5,61.36 73.2,61.36 73.2,62.4 74.07,62.4 74.07,63.5 74.95,63.5 74.95,64.6 75.82,64.6 75.82,65.7 76.7,65.7 76.7,66.8 78,66.8 78,67.9 79.3,67.9 79.3,69 80.6,69 80.6,70.1 81.9,70.1 81.9,71.2 83.22,71.2 83.22,72.27 84.55,72.27 84.55,73.35 85.87,73.35 85.87,74.42 87.2,74.42 87.2,75.5 88.92,75.5 88.92,76.6 90.65,76.6 90.65,77.7 92.38,77.7 92.38,78.8 94.1,78.8 94.1,79.9 97.6,79.9 97.6,80.75 101.1,80.75 101.1,81.6 103.55,81.6 103.55,81.9 106,81.9 106,82.2 109,82.2 109,82.6 110.4,82.6 110.4,83.55 111.8,83.55 111.8,84.5 114.6,84.5 114.6,85.9 116,85.9 116,86.95 117.4,86.95 117.4,88 120.2,88 120.2,89.4 128.6,89.6 130,89.6 130,90.5 132.75,90.5 132.75,90.65 135.5,90.65 135.5,90.8 137.6,90.8 137.6,92.2 137.93,92.2 137.93,93.13 138.27,93.13 138.27,94.07 138.6,94.07 138.6,95 146.7,95 147.4,95 147.4,95.8 148.1,95.8 148.1,96.6 150.55,96.6 150.55,96.85 153,96.85 153,97.1 153.7,99.8 164.9,99.8 164.9,106.8 172.6,106.8" fill="none" stroke="#233464" stroke-width="1.85" stroke-linejoin="round"/>
<text transform="translate(23.4,189.5) scale(0.93,1)" font-size="8.6" fill="#1a1a1a" stroke="#1c1c1c" stroke-width="0.18">No. at Risk</text>
<line x1="24" y1="198.7" x2="42.8" y2="198.7" stroke="#94132f" stroke-width="1.5"/>
<text transform="translate(58.2,201.55) scale(0.93,1)" text-anchor="end" font-size="8.7" fill="#1a1a1a" stroke="#1c1c1c" stroke-width="0.18">124</text>
<text transform="translate(97.1,201.55) scale(0.93,1)" text-anchor="end" font-size="8.7" fill="#1a1a1a" stroke="#1c1c1c" stroke-width="0.18">55</text>
<text transform="translate(135.2,201.55) scale(0.93,1)" text-anchor="end" font-size="8.7" fill="#1a1a1a" stroke="#1c1c1c" stroke-width="0.18">36</text>
<text transform="translate(171.8,201.55) scale(0.93,1)" text-anchor="end" font-size="8.7" fill="#1a1a1a" stroke="#1c1c1c" stroke-width="0.18">20</text>
<text transform="translate(210.5,201.55) scale(0.93,1)" text-anchor="end" font-size="8.7" fill="#1a1a1a" stroke="#1c1c1c" stroke-width="0.18">17</text>
<text transform="translate(248.6,201.55) scale(0.93,1)" text-anchor="end" font-size="8.7" fill="#1a1a1a" stroke="#1c1c1c" stroke-width="0.18">12</text>
<line x1="24" y1="210.6" x2="42.8" y2="210.6" stroke="#5e9c44" stroke-width="1.5"/>
<text transform="translate(58.2,213.45) scale(0.93,1)" text-anchor="end" font-size="8.7" fill="#1a1a1a" stroke="#1c1c1c" stroke-width="0.18">267</text>
<text transform="translate(97.1,213.45) scale(0.93,1)" text-anchor="end" font-size="8.7" fill="#1a1a1a" stroke="#1c1c1c" stroke-width="0.18">166</text>
<text transform="translate(135.2,213.45) scale(0.93,1)" text-anchor="end" font-size="8.7" fill="#1a1a1a" stroke="#1c1c1c" stroke-width="0.18">114</text>
<text transform="translate(171.8,213.45) scale(0.93,1)" text-anchor="end" font-size="8.7" fill="#1a1a1a" stroke="#1c1c1c" stroke-width="0.18">87</text>
<text transform="translate(210.5,213.45) scale(0.93,1)" text-anchor="end" font-size="8.7" fill="#1a1a1a" stroke="#1c1c1c" stroke-width="0.18">44</text>
<text transform="translate(248.6,213.45) scale(0.93,1)" text-anchor="end" font-size="8.7" fill="#1a1a1a" stroke="#1c1c1c" stroke-width="0.18">14</text>
<line x1="24" y1="222.5" x2="42.8" y2="222.5" stroke="#233464" stroke-width="1.5"/>
<text transform="translate(58.2,225.35) scale(0.93,1)" text-anchor="end" font-size="8.7" fill="#1a1a1a" stroke="#1c1c1c" stroke-width="0.18">219</text>
<text transform="translate(97.1,225.35) scale(0.93,1)" text-anchor="end" font-size="8.7" fill="#1a1a1a" stroke="#1c1c1c" stroke-width="0.18">111</text>
<text transform="translate(135.2,225.35) scale(0.93,1)" text-anchor="end" font-size="8.7" fill="#1a1a1a" stroke="#1c1c1c" stroke-width="0.18">48</text>
<text transform="translate(171.8,225.35) scale(0.93,1)" text-anchor="end" font-size="8.7" fill="#1a1a1a" stroke="#1c1c1c" stroke-width="0.18">3</text>
<text transform="translate(210.5,225.35) scale(0.93,1)" text-anchor="end" font-size="8.7" fill="#1a1a1a" stroke="#1c1c1c" stroke-width="0.18">0</text>
<text transform="translate(248.6,225.35) scale(0.93,1)" text-anchor="end" font-size="8.7" fill="#1a1a1a" stroke="#1c1c1c" stroke-width="0.18">0</text>
</g>
<rect x="0" y="0" width="520" height="1" fill="#000"/><rect x="0" y="1" width="520" height="1" fill="#000" opacity="0.25"/>
<rect x="0" y="0" width="1" height="458" fill="#000"/><rect x="1" y="0" width="1" height="458" fill="#000" opacity="0.5"/>
<rect x="519" y="0" width="1" height="458" fill="#000"/><rect x="518" y="0" width="1" height="458" fill="#000" opacity="0.6"/>
<rect x="0" y="457" width="520" height="1" fill="#000"/><rect x="0" y="456" width="520" height="1" fill="#000" opacity="0.55"/>
</svg></body></html>
